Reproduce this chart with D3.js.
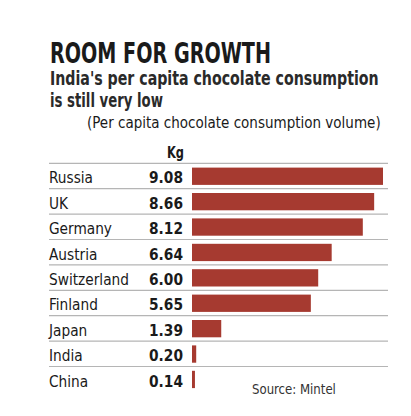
<!DOCTYPE html>
<html>
<head>
<meta charset="utf-8">
<script src="https://cdn.jsdelivr.net/npm/d3@7"></script>
<style>
  body { margin: 0; background: #fff; }
  svg { display: block; }
  text { font-family: "DejaVu Sans Condensed", "DejaVu Sans", sans-serif; font-stretch: condensed; fill: #1a1a1a; }
</style>
</head>
<body>
<svg id="chart" width="411" height="416"></svg>
<script>
var countries = ["Russia", "UK", "Germany", "Austria", "Switzerland", "Finland", "Japan", "India", "China"];
var kg = [9.08, 8.66, 8.12, 6.64, 6.00, 5.65, 1.39, 0.20, 0.14];
var valueLabels = ["9.08", "8.66", "8.12", "6.64", "6.00", "5.65", "1.39", "0.20", "0.14"];

var svg = d3.select("#chart");

// squeeze a text horizontally by factor f (print font is condensed)
function squeeze(node, f){
  var t = d3.select(node);
  var x = +t.attr("x"), y = +t.attr("y");
  t.attr("x", 0).attr("y", 0)
    .attr("transform", "translate(" + x + "," + y + ") scale(" + f + ",1)");
}
// squeeze to a given width
function fit(sel, w){
  var node = sel.node();
  squeeze(node, w / node.getComputedTextLength());
}

fit(svg.append("text").attr("x", 50).attr("y", 63)
  .style("font-size", "28px").style("font-weight", "bold")
  .text("ROOM FOR GROWTH"), 221);
fit(svg.append("text").attr("x", 50).attr("y", 85)
  .style("font-size", "19px").style("font-weight", "bold").style("fill", "#2a2a2a")
  .text("India's per capita chocolate consumption"), 329);
fit(svg.append("text").attr("x", 50).attr("y", 107)
  .style("font-size", "19px").style("font-weight", "bold").style("fill", "#2a2a2a")
  .text("is still very low"), 113);
fit(svg.append("text").attr("x", 87).attr("y", 128)
  .style("font-size", "16px")
  .text("(Per capita chocolate consumption volume)"), 294);

var y = d3.scaleBand()
  .domain(countries)
  .range([163.3, 391.9])
  .paddingInner(0);

var x = d3.scaleLinear()
  .domain([0, 9.08])
  .range([192, 383]);

fit(svg.append("text").attr("x", 167).attr("y", 158)
  .style("font-size", "16px").style("font-weight", "bold")
  .text("Kg"), 17);

var rows = svg.append("g").selectAll("g")
  .data(countries)
  .enter().append("g")
  .attr("transform", function(d){ return "translate(0," + y(d) + ")"; });

rows.append("line")
  .attr("x1", 49).attr("x2", 388)
  .attr("y1", 0).attr("y2", 0)
  .style("stroke", "#b5b5b5")
  .style("stroke-width", 1.2);

var labels = rows.append("text")
  .attr("x", 49).attr("y", 20)
  .style("font-size", "16px")
  .text(function(d){ return d; });

var values = rows.append("text")
  .attr("x", 183).attr("y", 20).attr("text-anchor", "end")
  .style("font-size", "16px").style("font-weight", "bold")
  .text(function(d, i){ return valueLabels[i]; });

// same squeeze for every row text
var fl = 80 / labels.filter(function(d){ return d == "Switzerland"; }).node().getComputedTextLength();
labels.each(function(){ squeeze(this, fl); });
var fv = 34 / values.node().getComputedTextLength();
values.each(function(){ squeeze(this, fv); });

rows.append("rect")
  .attr("x", x(0))
  .attr("y", 4.3)
  .attr("height", 17.3)
  .attr("width", function(d, i){ return x(kg[i]) - x(0); })
  .style("fill", "#a63a30");

fit(svg.append("text").attr("x", 252).attr("y", 394)
  .style("font-size", "13.5px").style("fill", "#333")
  .text("Source: Mintel"), 84);
</script>
</body>
</html>
